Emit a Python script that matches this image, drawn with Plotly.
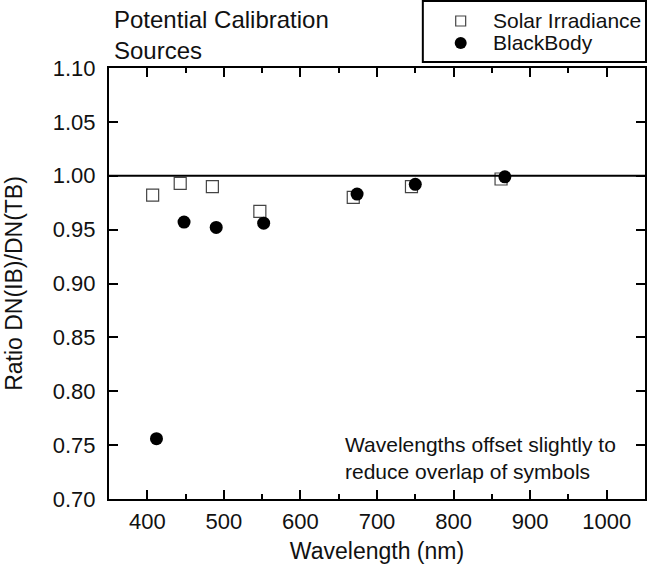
import plotly.graph_objects as go

# Data
solar_wl = [407, 443, 485, 547, 669, 745, 862]
solar_ratio = [0.982, 0.993, 0.990, 0.967, 0.980, 0.990, 0.997]
bb_wl = [412, 448, 490, 552, 674, 750, 867]
bb_ratio = [0.756, 0.957, 0.952, 0.956, 0.983, 0.992, 0.999]
reference_ratio = 1.0
series_names = ["Solar Irradiance", "BlackBody"]

FONT = "Liberation Sans, Arial, sans-serif"
W, H = 650, 566
L, R, T, B = 109, 3, 68, 67
PW, PH = W - L - R, H - T - B


def px(xp):
    return (xp - L) / PW


def py(yp):
    return (H - B - yp) / PH


fig = go.Figure()
fig.add_trace(go.Scatter(
    x=solar_wl, y=solar_ratio, mode="markers", name=series_names[0],
    marker=dict(symbol="square", size=12, color="white",
                line=dict(color="#444444", width=1.2)),
))
fig.add_trace(go.Scatter(
    x=bb_wl, y=bb_ratio, mode="markers", name=series_names[1],
    marker=dict(symbol="circle", size=13, color="black",
                line=dict(color="black", width=0)),
))

fig.add_shape(type="line", xref="paper", yref="y", x0=0, x1=1,
              y0=reference_ratio, y1=reference_ratio,
              line=dict(color="black", width=2))

# Legend box (drawn manually to match the compact spacing)
fig.add_shape(type="rect", xref="paper", yref="paper",
              x0=px(424), x1=px(648), y0=py(62), y1=py(1),
              line=dict(color="black", width=2), fillcolor="white", layer="above")
fig.add_shape(type="rect", xref="paper", yref="paper",
              x0=px(457), x1=px(467), y0=py(26), y1=py(16),
              line=dict(color="#444444", width=1.2), fillcolor="white", layer="above")
fig.add_shape(type="circle", xref="paper", yref="paper",
              x0=px(456), x1=px(468), y0=py(49), y1=py(37),
              line=dict(color="black", width=0), fillcolor="black", layer="above")
for name, yc in zip(series_names, [21, 43]):
    fig.add_annotation(xref="paper", yref="paper", x=px(492), y=py(yc),
                       xanchor="left", yanchor="middle", showarrow=False,
                       text=name, font=dict(family=FONT, size=21, color="#111111"))

fig.add_annotation(
    xref="paper", yref="paper", x=px(344), y=py(458),
    xanchor="left", yanchor="middle", align="left", showarrow=False,
    text="Wavelengths offset slightly to<br>reduce overlap of symbols",
    font=dict(family=FONT, size=21, color="#111111"),
)
fig.add_annotation(
    xref="paper", yref="paper", x=px(112), y=py(35),
    xanchor="left", yanchor="middle", align="left", showarrow=False,
    text="Potential Calibration<br>Sources",
    font=dict(family=FONT, size=24, color="#111111"),
)

fig.update_layout(
    width=W, height=H,
    margin=dict(l=L, r=R, t=T, b=B),
    paper_bgcolor="white", plot_bgcolor="white",
    font=dict(family=FONT, size=22, color="#111111"),
    showlegend=False,
    xaxis=dict(range=[350, 1050], dtick=100, tick0=0, ticks="inside",
               ticklen=9, tickwidth=1.5, tickcolor="black",
               showline=True, linecolor="black", linewidth=2, mirror="ticks",
               showgrid=False, zeroline=False, ticklabelstandoff=2,
               minor=dict(dtick=50, ticks="inside", ticklen=5,
                          tickwidth=1.5, tickcolor="black", showgrid=False),
               title=dict(text="Wavelength (nm)", standoff=9,
                          font=dict(family=FONT, size=23)),
               tickfont=dict(family=FONT, size=22)),
    yaxis=dict(range=[0.70, 1.10], dtick=0.05, tick0=0.70, ticks="inside",
               ticklen=9, tickwidth=1.5, tickcolor="black", tickformat=".2f",
               showline=True, linecolor="black", linewidth=2, mirror="ticks",
               showgrid=False, zeroline=False, ticklabelstandoff=7,
               title=dict(text="Ratio DN(IB)/DN(TB)", standoff=24,
                          font=dict(family=FONT, size=23)),
               tickfont=dict(family=FONT, size=22)),
)

fig.write_html("out.html",
               config={"displayModeBar": False},
               post_script="document.body.style.margin='0';document.body.style.overflow='hidden';")
